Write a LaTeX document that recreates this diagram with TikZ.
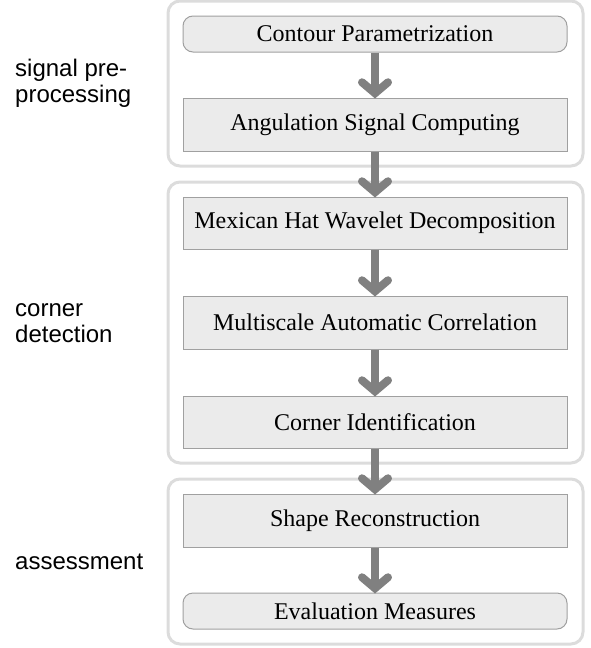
\documentclass[tikz,border=0pt]{standalone}
\usepackage{fontspec}
\setmainfont{Liberation Serif}
\setsansfont{Liberation Sans}
\usetikzlibrary{arrows.meta}
\definecolor{boxfill}{HTML}{EBEBEB}
\definecolor{boxline}{HTML}{A0A0A0}
\definecolor{grpline}{HTML}{DCDCDC}
\definecolor{arrcol}{HTML}{808080}
\tikzset{
  stepbox/.style={draw=boxline, fill=boxfill, line width=1pt, minimum width=384pt, inner sep=0pt, font=\fontsize{24}{28}\selectfont},
  rectbox/.style={stepbox, minimum height=53pt},
  roundbox/.style={stepbox, rounded corners=10pt, minimum height=36pt},
  grp/.style={draw=grpline, line width=3pt, rounded corners=12pt, minimum width=415pt, inner sep=0pt},
  grplabel/.style={anchor=west, align=left, inner sep=0pt, font=\sffamily\fontsize{24}{26}\selectfont},
  flow/.style={draw=arrcol, line width=8pt, -{Straight Barb[length=11pt, width=26pt, line cap=round, line join=miter]}, shorten >=-1pt}
}
\begin{document}
\begin{tikzpicture}[x=1pt, y=-1pt]
\useasboundingbox (0,0) rectangle (590,648);
\node[grp, minimum height=165pt] (g1) at (375.5,83.5) {};
\node[grp, minimum height=281pt] (g2) at (375.5,322.5) {};
\node[grp, minimum height=165pt] (g3) at (375.5,561.5) {};
\node[roundbox] (b1) at (375,34) {Contour Parametrization};
\node[rectbox] (b2) at (375,124.5) {Angulation Signal Computing};
\node[rectbox, minimum height=52pt] (b3) at (375,223) {Mexican Hat Wavelet Decomposition};
\node[rectbox] (b4) at (375,322.5) {Multiscale Automatic Correlation};
\node[rectbox, minimum height=52pt] (b5) at (375,422) {Corner Identification};
\node[rectbox] (b6) at (375,520.5) {Shape Reconstruction};
\node[roundbox] (b7) at (375,611) {Evaluation Measures};
\node[grplabel] (l1) at (15,83.5) {signal pre-\\processing};
\node[grplabel] (l2) at (15,323.5) {corner\\detection};
\node[grplabel] (l3) at (15,561.5) {assessment};
\foreach \a/\b in {b1/b2,b2/b3,b3/b4,b4/b5,b5/b6,b6/b7}
  \draw[flow] (\a.south) -- (\b.north);
\end{tikzpicture}
\end{document}
